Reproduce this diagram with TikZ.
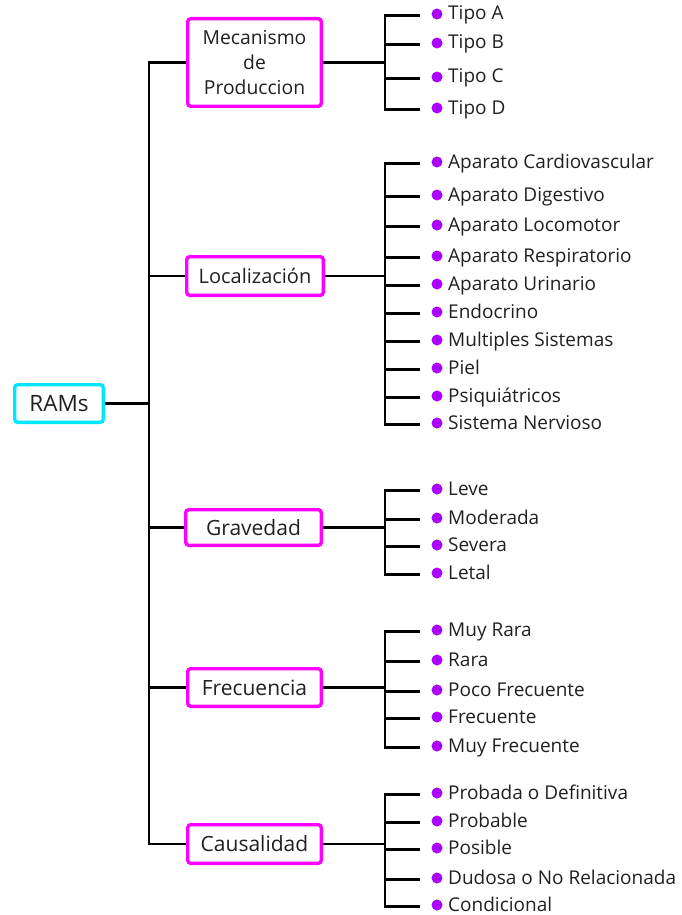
\documentclass[tikz,border=0pt]{standalone}
\usepackage{fontspec}
\setmainfont{Open Sans}
\usetikzlibrary{backgrounds}
\definecolor{boxmag}{RGB}{255,0,255}
\definecolor{boxcyan}{RGB}{0,230,255}
\definecolor{dotpur}{RGB}{170,0,255}
\definecolor{txt}{RGB}{35,31,32}
\begin{document}
\begin{tikzpicture}[x=1pt,y=-1pt,
  conn/.style={line width=2.6pt, draw=black},
  catbox/.style={draw=boxmag, line width=3.4pt, rounded corners=3pt, fill=white,
    inner sep=0pt, text=txt, align=center, font=\fontsize{21}{25}\selectfont},
  rootbox/.style={catbox, draw=boxcyan, font=\fontsize{22.5}{27}\selectfont},
  dotn/.style={circle, fill=dotpur, inner sep=0pt, minimum size=11pt},
  itm/.style={anchor=base west, inner sep=0pt, text=txt, font=\fontsize{19}{23}\selectfont}]
\useasboundingbox (0,0) rectangle (681,915);

% boxes
\node[rootbox, minimum width=88.6pt, minimum height=37.6pt] (ram) at (59,403.5) {RAMs};
\node[catbox, minimum width=133.6pt, minimum height=87.6pt, font=\fontsize{19.3}{25}\selectfont] (mec) at (254.5,62.5) {Mecanismo\\de\\Produccion};
\node[catbox, minimum width=136.6pt, minimum height=38.6pt, font=\fontsize{20}{25}\selectfont] (loc) at (255,276) {Localización};
\node[catbox, minimum width=135.6pt, minimum height=35.6pt] (grav) at (253.5,527.5) {Gravedad};
\node[catbox, minimum width=133.6pt, minimum height=37.6pt] (frec) at (254.5,687.5) {Frecuencia};
\node[catbox, minimum width=133.6pt, minimum height=38.6pt] (caus) at (254.5,844) {Causalidad};

% items
\foreach \y/\t [count=\i] in {14/Tipo A, 43/Tipo B, 77/Tipo C, 108/Tipo D} {
  \node[dotn] (ad\i) at (437,\y) {};
  \node[itm] (at\i) at (448,\y+6) {\t};
}
\foreach \y/\t [count=\i] in {162/Aparato Cardiovascular, 195/Aparato Digestivo, 225/Aparato Locomotor,
  256/Aparato Respiratorio, 284/Aparato Urinario, 312/Endocrino, 340/Multiples Sistemas,
  368/Piel, 396/Psiquiátricos, 423/Sistema Nervioso} {
  \node[dotn] (bd\i) at (437,\y) {};
  \node[itm] (bt\i) at (448,\y+6) {\t};
}
\foreach \y/\t [count=\i] in {489/Leve, 518/Moderada, 545/Severa, 573/Letal} {
  \node[dotn] (cd\i) at (437,\y) {};
  \node[itm] (ct\i) at (448,\y+6) {\t};
}
\foreach \y/\t [count=\i] in {630/Muy Rara, 660/Rara, 690/Poco Frecuente, 717/Frecuente, 746/Muy Frecuente} {
  \node[dotn] (dd\i) at (437,\y) {};
  \node[itm] (dt\i) at (448,\y+6) {\t};
}
\foreach \y/\t [count=\i] in {793/Probada o Definitiva, 821/Probable, 848/Posible, 878/Dudosa o No Relacionada, 905/Condicional} {
  \node[dotn] (ed\i) at (437,\y) {};
  \node[itm] (et\i) at (448,\y+6) {\t};
}

% connectors
\coordinate (t) at (149,403.5);
\coordinate (aj) at (385,62.5);
\coordinate (bj) at (385,276);
\coordinate (cj) at (385,527.5);
\coordinate (dj) at (385,687.5);
\coordinate (ej) at (385,844);
\begin{scope}[on background layer]
\draw[conn] (ram.east) -- (t);
\draw[conn] (mec.west) -| (t) |- (caus.west);
\draw[conn] (loc.west) -- (loc.west -| t);
\draw[conn] (grav.west) -- (grav.west -| t);
\draw[conn] (frec.west) -- (frec.west -| t);
\draw[conn] (mec.east) -- (aj);
\draw[conn] (loc.east) -- (bj);
\draw[conn] (grav.east) -- (cj);
\draw[conn] (frec.east) -- (dj);
\draw[conn] (caus.east) -- (ej);
\foreach \i in {1,...,4} \draw[conn] (aj) |- ([shift={(-11.5pt,-1.5pt)}]ad\i.west);
\foreach \i in {1,...,10} \draw[conn] (bj) |- ([shift={(-11.5pt,-1.5pt)}]bd\i.west);
\foreach \i in {1,...,4} \draw[conn] (cj) |- ([shift={(-11.5pt,-1.5pt)}]cd\i.west);
\foreach \i in {1,...,5} \draw[conn] (dj) |- ([shift={(-11.5pt,-1.5pt)}]dd\i.west);
\foreach \i in {1,...,5} \draw[conn] (ej) |- ([shift={(-11.5pt,-1.5pt)}]ed\i.west);
\end{scope}
\end{tikzpicture}
\end{document}
